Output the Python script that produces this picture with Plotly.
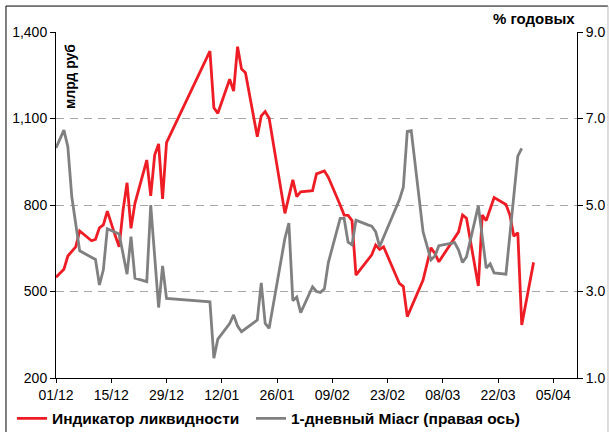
import pandas as pd
import plotly.graph_objects as go

start_date = "2007-12-01"

# Индикатор ликвидности (left axis, млрд руб) — day offsets from 01/12/2007
liq_days = [0, 2, 3, 4, 5, 6, 9, 10, 11, 12, 13, 15, 16, 17, 18, 19, 20, 23, 24, 25, 26, 27, 28,
            39, 40, 41, 44, 45, 46, 47, 48, 51, 52, 53, 54, 58, 60, 61, 62, 65, 66, 68, 69,
            72, 73, 74, 75, 76, 80, 81, 82, 83, 87, 88, 89, 93, 95, 96, 97, 102, 103, 104,
            107, 108, 109, 111, 114, 115, 116, 117, 118, 121]
liq_vals = [549, 577, 623, 638, 655, 710, 676, 681, 721, 731, 779, 694, 655, 783, 877, 719, 806,
            956, 832, 973, 1012, 821, 1016,
            1334, 1137, 1118, 1236, 1195, 1349, 1272, 1259, 1037, 1109, 1124, 1101, 771, 887, 829,
            846, 850, 908, 918, 896,
            800, 765, 764, 746, 557, 627, 661, 646, 655, 528, 517, 413, 540, 652, 632, 603, 707,
            765, 754, 519, 765, 746, 826, 802, 765, 692, 704, 384, 601]

# 1-дневный Miacr (right axis, % годовых)
miacr_days = [0, 2, 3, 4, 6, 10, 11, 12, 13, 16, 18, 19, 20, 23, 24, 26, 27, 28,
              39, 40, 41, 44, 45, 46, 47, 49, 51, 52, 53, 54, 58, 59, 60, 61, 62, 65, 66, 67, 68, 69,
              72, 73, 74, 75, 76, 79, 80, 81, 82, 87, 88, 89, 90, 93, 95, 96, 97,
              101, 102, 103, 104, 107, 109, 110, 111, 114, 116, 117, 118]
miacr_vals = [6.32, 6.73, 6.35, 5.19, 3.94, 3.74, 3.15, 3.50, 4.45, 4.33, 3.40, 4.27, 3.31, 3.23,
              5.00, 2.63, 3.59, 2.84,
              2.76, 1.46, 1.90, 2.26, 2.46, 2.20, 2.07, 2.20, 2.34, 3.20, 2.26, 2.15, 4.23, 4.58,
              2.79, 2.87, 2.51, 3.11, 3.00, 2.98, 3.06, 3.67,
              4.69, 4.69, 4.14, 4.08, 4.65, 4.54, 4.51, 4.38, 4.04, 5.12, 5.41, 6.70, 6.72, 4.38,
              3.73, 3.82, 4.06,
              4.13, 3.96, 3.67, 3.80, 4.98, 3.54, 3.64, 3.43, 3.40, 5.19, 6.13, 6.31]

left_ticks = [200, 500, 800, 1100, 1400]
right_ticks = [1, 3, 5, 7, 9]

base = pd.Timestamp(start_date)
liq_dates = base + pd.to_timedelta(liq_days, unit="D")
miacr_dates = base + pd.to_timedelta(miacr_days, unit="D")

FONT = "Liberation Sans, Arial, sans-serif"
RED = "#EE1D25"
GREY = "#808080"

fig = go.Figure()
fig.add_trace(go.Scatter(x=liq_dates, y=liq_vals, mode="lines", name="Индикатор ликвидности",
                         line=dict(color=RED, width=2.8), legend="legend"))
fig.add_trace(go.Scatter(x=miacr_dates, y=miacr_vals, mode="lines", name="1-дневный Miacr (правая ось)",
                         line=dict(color=GREY, width=2.8), yaxis="y2", legend="legend2"))

legend_common = dict(orientation="h", xanchor="left", yanchor="middle", y=-0.118,
                     font=dict(family=FONT, size=15.5, weight="bold"),
                     bgcolor="rgba(0,0,0,0)", itemwidth=30)

fig.update_layout(
    width=609, height=432,
    margin=dict(l=56, r=32, t=32, b=54, autoexpand=False),
    paper_bgcolor="white", plot_bgcolor="white",
    font=dict(family=FONT, size=14, color="black"),
    showlegend=True,
    legend=dict(x=(12 - 56) / 521, **legend_common),
    legend2=dict(x=(251 - 56) / 521, **legend_common),
    xaxis=dict(type="date", range=["2007-12-01", "2008-04-11"],
               tick0="2007-12-01", dtick=14 * 86400000, tickformat="%d/%m",
               showgrid=False, zeroline=False, showline=True, linecolor="black", linewidth=1,
               ticks="outside", ticklen=4, tickcolor="black", automargin=False,
               tickfont=dict(family=FONT, size=14)),
    yaxis=dict(range=[200, 1400], tickvals=left_ticks, tickformat=",d",
               showgrid=True, gridcolor="#A6A6A6", griddash="8px,6px", gridwidth=1,
               zeroline=False, showline=True, linecolor="black", linewidth=1,
               ticks="outside", ticklen=5, tickcolor="black", automargin=False,
               tickfont=dict(family=FONT, size=14)),
    yaxis2=dict(range=[1, 9], tickvals=right_ticks, tickformat=".1f", overlaying="y", side="right",
                showgrid=False, zeroline=False, showline=True, linecolor="black", linewidth=1,
                ticks="outside", ticklen=5, tickcolor="black", automargin=False,
                tickfont=dict(family=FONT, size=14)),
    annotations=[
        dict(text="млрд руб", xref="paper", yref="paper", x=0.027, y=0.87, textangle=-90,
             showarrow=False, xanchor="center", yanchor="middle",
             font=dict(family=FONT, size=14, weight="bold")),
        dict(text="% годовых", xref="paper", yref="paper", x=1.0, y=1.04, showarrow=False,
             xanchor="right", yanchor="middle",
             font=dict(family=FONT, size=15, weight="bold")),
    ],
    shapes=[
        dict(type="line", xref="paper", yref="paper", x0=-0.096, x1=-0.096, y0=-0.2, y1=1.075,
             line=dict(color="black", width=1)),
        dict(type="line", xref="paper", yref="paper", x0=-0.096, x1=1.0595, y0=1.075, y1=1.075,
             line=dict(color="black", width=1)),
        dict(type="line", xref="paper", yref="paper", x0=1.0595, x1=1.0595, y0=-0.2, y1=1.075,
             line=dict(color="#BBBBBB", width=1)),
    ],
)

fig.write_html("out.html", config={"displayModeBar": False},
               post_script="document.body.style.margin='0';document.body.style.padding='0';"
                           "document.documentElement.style.overflow='hidden';")
